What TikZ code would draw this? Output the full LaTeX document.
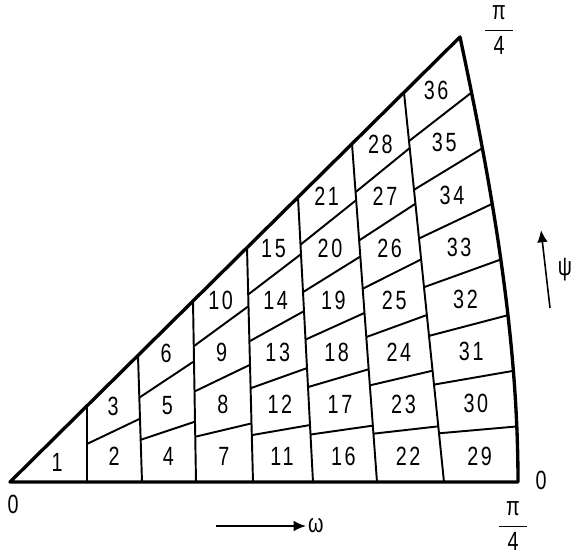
\documentclass[tikz,border=0pt]{standalone}
\usepackage{fontspec}
\setmainfont{Liberation Sans}[FakeStretch=0.75,LetterSpace=10]
\usetikzlibrary{calc,arrows.meta}
\tikzset{
	outline/.style={line width=1.9pt, line join=round},
	cellline/.style={line width=1.1pt},
	axisarrow/.style={line width=0.9pt, -{Latex[length=7pt,width=6pt]}}
}
\newcommand{\quarterpi}{$\displaystyle\frac{\hspace{4pt}\mbox{π}\hspace{4pt}}{\mbox{4}}$}
\begin{document}
\begin{tikzpicture}[x=0.02cm,y=0.02cm,font=\fontsize{15}{17}\selectfont]
	\useasboundingbox (-10,-73) rectangle (572,482);
	% edges of the columns, on the base and on the slope
	\coordinate (b0) at (0,0);	\coordinate (t0) at (0,0);
	\coordinate (b1) at (77,0);	\coordinate (t1) at (77,76.1);
	\coordinate (b2) at (132,0);	\coordinate (t2) at (128,126.6);
	\coordinate (b3) at (186,0);	\coordinate (t3) at (183,181);
	\coordinate (b4) at (243,0);	\coordinate (t4) at (237,234.4);
	\coordinate (b5) at (303,0);	\coordinate (t5) at (288,284.8);
	\coordinate (b6) at (367,0);	\coordinate (t6) at (342,338.2);
	\coordinate (b7) at (434,0);	\coordinate (t7) at (394,389.6);
	\coordinate (b8) at (508,0);	\coordinate (t8) at (450,445);
	% curved right edge, cut in 8 parts (h = middles)
	\path (b8) .. controls (508,148) and (481.5,297) .. (t8)
		coordinate[pos=0.0625] (h1) coordinate[pos=0.125] (r1)
		coordinate[pos=0.1875] (h2) coordinate[pos=0.25] (r2)
		coordinate[pos=0.3125] (h3) coordinate[pos=0.375] (r3)
		coordinate[pos=0.4375] (h4) coordinate[pos=0.5] (r4)
		coordinate[pos=0.5625] (h5) coordinate[pos=0.625] (r5)
		coordinate[pos=0.6875] (h6) coordinate[pos=0.75] (r6)
		coordinate[pos=0.8125] (h7) coordinate[pos=0.875] (r7)
		coordinate[pos=0.9375] (h8);
	\foreach \j in {1,...,7}
		\draw[cellline] (b\j) -- (t\j);
	\foreach \k/\km in {2/1,3/2,4/3,5/4,6/5,7/6}
		\foreach \i in {1,...,\km}
			\draw[cellline] ($(b\km)!{\i/\k}!(t\km)$) -- ($(b\k)!{\i/\k}!(t\k)$);
	\foreach \i in {1,...,7}
		\draw[cellline] ($(b7)!{\i/8}!(t7)$) -- (r\i);
	\draw[outline] (b0) -- (b8) .. controls (508,148) and (481.5,297) .. (t8) -- cycle;
	% cell numbers
	\node (c1) at (47,20) {1};
	\foreach \k/\km in {2/1,3/2,4/3,5/4,6/5,7/6,8/7}
		\foreach \i in {1,...,\k}{
			\pgfmathtruncatemacro\n{\k*\km/2+\i}
			\coordinate (lft) at ($(b\km)!{(\i-0.5)/\k}!(t\km)$);
			\ifnum\k=8
				\coordinate (rgt) at (h\i);
			\else
				\coordinate (rgt) at ($(b\k)!{(\i-0.5)/\k}!(t\k)$);
			\fi
			\node (c\n) at ($(lft)!0.5!(rgt)$) {\n};
		}
	% axis labels
	\node (zeroO) at (3,-22) {0};
	\node (zeroR) at (531,2) {0};
	\node (piR) at (503,-44) {\quarterpi};
	\node (piT) at (489,452) {\quarterpi};
	\coordinate (omegaA) at (206,-44);
	\node[anchor=west, inner sep=1pt] (omega) at (296,-44) {ω};
	\draw[axisarrow] (omegaA) -- (omega);
	\coordinate (psiA) at (540,174);
	\coordinate (psiB) at (531,252);
	\draw[axisarrow] (psiA) -- (psiB);
	\node (psi) at (555,212) {ψ};
\end{tikzpicture}
\end{document}
